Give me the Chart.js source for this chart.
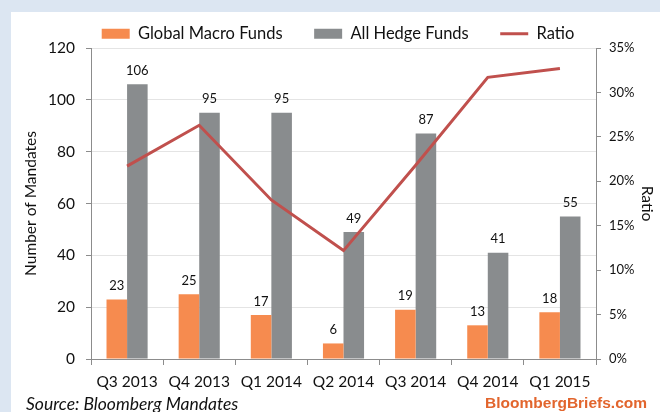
<!DOCTYPE html>
<html>
<head>
<meta charset="utf-8">
<script src="https://cdn.jsdelivr.net/npm/chart.js@4.4.1/dist/chart.umd.min.js"></script>
<style>
    body { margin: 0; background: #dce6f2; font-family: Lato, sans-serif; }
    #wrap { position: relative; width: 660px; height: 412px; overflow: hidden; }
    #panel { position: absolute; left: 11px; top: 12px; width: 649px; height: 400px; background: #fff; }
    #chart { position: absolute; left: 0; top: 0; }
    .source { position: absolute; left: 26px; top: 393px; font-size: 17.5px; font-style: italic; color: #111; white-space: nowrap; }
    .brand { position: absolute; right: 13px; top: 394px; font-family: "Liberation Sans", Arial, sans-serif; font-weight: bold; font-size: 15.5px; color: #e2652d; white-space: nowrap; }
</style>
</head>
<body>
<div id="wrap">
    <div id="panel"></div>
    <canvas id="chart" width="660" height="412"></canvas>
    <div class="source">Source: Bloomberg Mandates</div>
    <div class="brand">BloombergBriefs.com</div>
</div>
<script>
const quarters = ['Q3 2013', 'Q4 2013', 'Q1 2014', 'Q2 2014', 'Q3 2014', 'Q4 2014', 'Q1 2015'];
const globalMacro = [23, 25, 17, 6, 19, 13, 18];
const allHedge = [106, 95, 95, 49, 87, 41, 55];
const ratioPct = [21.7, 26.3, 17.9, 12.2, 21.8, 31.7, 32.7];
const mandateTicks = [0, 20, 40, 60, 80, 100, 120];
const ratioTicks = [0, 5, 10, 15, 20, 25, 30, 35];

const axisGray = '#8c8c8c';
const textColor = '#111';

// numbers above each bar
const barLabels = {
    id: 'barLabels',
    afterDatasetsDraw(chart) {
        const ctx = chart.ctx;
        ctx.save();
        ctx.font = '13px Lato';
        ctx.fillStyle = textColor;
        ctx.textAlign = 'center';
        ctx.textBaseline = 'bottom';
        [0, 1].forEach(i => {
            chart.getDatasetMeta(i).data.forEach((bar, j) => {
                ctx.fillText(chart.data.datasets[i].data[j], bar.x, bar.y - 7);
            });
        });
        ctx.restore();
    }
};

const ctx = document.getElementById('chart').getContext('2d');
new Chart(ctx, {
    type: 'bar',
    data: {
        labels: quarters,
        datasets: [{
            label: 'Global Macro Funds',
            data: globalMacro,
            backgroundColor: '#f68b4f',
            barPercentage: 1,
            categoryPercentage: 0.57,
            yAxisID: 'y'
        }, {
            label: 'All Hedge Funds',
            data: allHedge,
            backgroundColor: '#898c8e',
            barPercentage: 1,
            categoryPercentage: 0.57,
            yAxisID: 'y'
        }, {
            type: 'line',
            label: 'Ratio',
            data: ratioPct,
            borderColor: '#c0504d',
            backgroundColor: '#c0504d',
            borderWidth: 3,
            pointRadius: 0,
            tension: 0,
            order: -1,
            yAxisID: 'y1'
        }]
    },
    options: {
        responsive: false,
        animation: false,
        layout: { padding: { top: -6, left: 16, right: 0, bottom: 0 } },
        plugins: {
            tooltip: { enabled: false },
            legend: {
                position: 'top',
                maxHeight: 54,
                labels: {
                    usePointStyle: true,
                    pointStyleWidth: 28,
                    boxHeight: 10,
                    padding: 31.5,
                    color: textColor,
                    font: { family: 'Lato', size: 16.5 },
                    sort: (a, b) => a.datasetIndex - b.datasetIndex,
                    generateLabels(chart) {
                        const items = Chart.defaults.plugins.legend.labels.generateLabels(chart);
                        items.forEach(it => {
                            it.pointStyle = chart.data.datasets[it.datasetIndex].type === 'line' ? 'line' : 'rect';
                        });
                        return items;
                    }
                }
            }
        },
        scales: {
            x: {
                grid: { offset: true, drawOnChartArea: false, tickLength: 6, tickColor: axisGray },
                border: { color: axisGray },
                ticks: { padding: 8, color: textColor, font: { family: 'Lato', size: 15.5 } },
                afterFit(s) { s.height = 53; }
            },
            y: {
                position: 'left',
                min: 0,
                max: 120,
                afterBuildTicks(s) { s.ticks = mandateTicks.map(v => ({ value: v })); },
                grid: { color: '#e4e4e4', tickColor: axisGray, tickLength: 5 },
                border: { color: axisGray },
                ticks: { padding: 11, color: textColor, font: { family: 'Lato', size: 15.5 } },
                title: {
                    display: true,
                    text: 'Number of Mandates',
                    color: textColor,
                    font: { family: 'Lato', size: 15.5 },
                    padding: { top: 6, bottom: 0 }
                },
                afterFit(s) { s.width = 75; }
            },
            y1: {
                position: 'right',
                min: 0,
                max: 35,
                afterBuildTicks(s) { s.ticks = ratioTicks.map(v => ({ value: v })); },
                grid: { drawOnChartArea: false, tickColor: axisGray, tickLength: 5 },
                border: { color: axisGray },
                ticks: {
                    padding: 8,
                    color: textColor,
                    font: { family: 'Lato', size: 13 },
                    callback: v => v + '%'
                },
                title: {
                    display: true,
                    text: 'Ratio',
                    color: textColor,
                    font: { family: 'Lato', size: 15.5 },
                    padding: { top: 4, bottom: 0 }
                },
                afterFit(s) { s.width = 64; }
            }
        }
    },
    plugins: [barLabels]
});
</script>
</body>
</html>
